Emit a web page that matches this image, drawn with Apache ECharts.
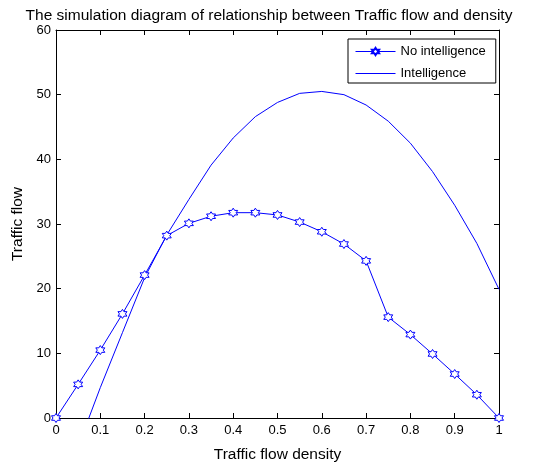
<!DOCTYPE html>
<html>
<head>
<meta charset="utf-8">
<script src="https://cdn.jsdelivr.net/npm/echarts@6/dist/echarts.min.js"></script>
<style>
html,body{margin:0;padding:0;background:#fff;}
#chart{width:538px;height:468px;}
</style>
</head>
<body>
<div id="chart"></div>
<script>
const titleText = 'The simulation diagram of relationship between Traffic flow and density';
const xName = 'Traffic flow density';
const yName = 'Traffic flow';
const seriesNames = ['No intelligence', 'Intelligence'];

const densityNoIntel = [0, 0.05, 0.1, 0.15, 0.2, 0.25, 0.3, 0.35, 0.4, 0.45, 0.5, 0.55, 0.6, 0.65, 0.7, 0.75, 0.8, 0.85, 0.9, 0.95, 1];
const flowNoIntel = [0, 5.2, 10.5, 16.1, 22.1, 28.2, 30.1, 31.2, 31.75, 31.75, 31.4, 30.3, 28.8, 26.9, 24.3, 15.6, 12.9, 9.9, 6.8, 3.6, 0];

const densityIntel = [0.05, 0.1, 0.15, 0.2, 0.25, 0.3, 0.35, 0.4, 0.45, 0.5, 0.55, 0.6, 0.65, 0.7, 0.75, 0.8, 0.85, 0.9, 0.95, 1];
const flowIntel = [-4.4, 4.7, 13.2, 21.7, 28.3, 33.8, 39.1, 43.3, 46.6, 48.8, 50.2, 50.5, 50.0, 48.4, 45.9, 42.5, 38.1, 32.9, 27.0, 19.9];

const xTicks = [0, 0.1, 0.2, 0.3, 0.4, 0.5, 0.6, 0.7, 0.8, 0.9, 1];
const yTicks = [0, 10, 20, 30, 40, 50, 60];

const hexagram = 'path://M10 0 L12.89 5 L18.66 5 L15.77 10 L18.66 15 L12.89 15 L10 20 L7.11 15 L1.34 15 L4.23 10 L1.34 5 L7.11 5 Z';
const font = 'Liberation Sans, Arial, sans-serif';

const chart = echarts.init(document.getElementById('chart'), null, {renderer: 'canvas'});
const xStep = xTicks[1] - xTicks[0];
const yStep = yTicks[1] - yTicks[0];

const baseX = {
  type: 'value', min: xTicks[0], max: xTicks[xTicks.length - 1], interval: xStep,
  splitLine: {show: false},
  axisLine: {show: true, onZero: false, lineStyle: {color: '#000', width: 1}},
  axisTick: {show: true, inside: true, length: 5, lineStyle: {color: '#000'}}
};
const baseY = {
  type: 'value', min: yTicks[0], max: yTicks[yTicks.length - 1], interval: yStep,
  splitLine: {show: false},
  axisLine: {show: true, onZero: false, lineStyle: {color: '#000', width: 1}},
  axisTick: {show: true, inside: true, length: 5, lineStyle: {color: '#000'}}
};

chart.setOption({
  backgroundColor: '#fff',
  animation: false,
  title: {
    text: titleText, left: 'center', top: 3,
    textStyle: {fontFamily: font, fontSize: 15.5, fontWeight: 'normal', color: '#000'}
  },
  grid: {left: 56, right: 39, top: 30, bottom: 50},
  legend: {
    orient: 'vertical', left: 348, top: 39,
    padding: [6, 10, 3, 7],
    itemWidth: 40, itemHeight: 9, itemGap: 9,
    borderColor: '#000', borderWidth: 1, backgroundColor: '#fff',
    textStyle: {fontFamily: font, fontSize: 13, color: '#000'},
    data: [
      {name: seriesNames[0], lineStyle: {color: '#0000ff', width: 1}},
      {name: seriesNames[1], lineStyle: {color: '#0000ff', width: 1}, itemStyle: {opacity: 0}}
    ]
  },
  xAxis: [
    Object.assign({}, baseX, {
      position: 'bottom',
      name: xName, nameLocation: 'middle', nameGap: 29,
      nameTextStyle: {fontFamily: font, fontSize: 15.5, color: '#000'},
      axisLabel: {fontFamily: font, fontSize: 13, color: '#000', margin: 6}
    }),
    Object.assign({}, baseX, {position: 'top', axisLabel: {show: false}})
  ],
  yAxis: [
    Object.assign({}, baseY, {
      position: 'left',
      name: yName, nameLocation: 'middle', nameGap: 27,
      nameTextStyle: {fontFamily: font, fontSize: 15.5, color: '#000'},
      axisLabel: {fontFamily: font, fontSize: 13, color: '#000', margin: 5}
    }),
    Object.assign({}, baseY, {position: 'right', axisLabel: {show: false}})
  ],
  series: [
    {
      name: seriesNames[0], type: 'line',
      data: densityNoIntel.map((d, i) => [d, flowNoIntel[i]]),
      symbol: hexagram, symbolSize: 9, showAllSymbol: true,
      lineStyle: {color: '#0000ff', width: 1},
      itemStyle: {color: '#ffffff', borderColor: '#0000ff', borderWidth: 1},
      clip: true, z: 3
    },
    {
      name: seriesNames[1], type: 'line',
      data: densityIntel.map((d, i) => [d, flowIntel[i]]),
      symbol: 'none',
      lineStyle: {color: '#0000ff', width: 1},
      itemStyle: {color: '#0000ff'},
      clip: true, z: 2
    }
  ]
});
</script>
</body>
</html>
